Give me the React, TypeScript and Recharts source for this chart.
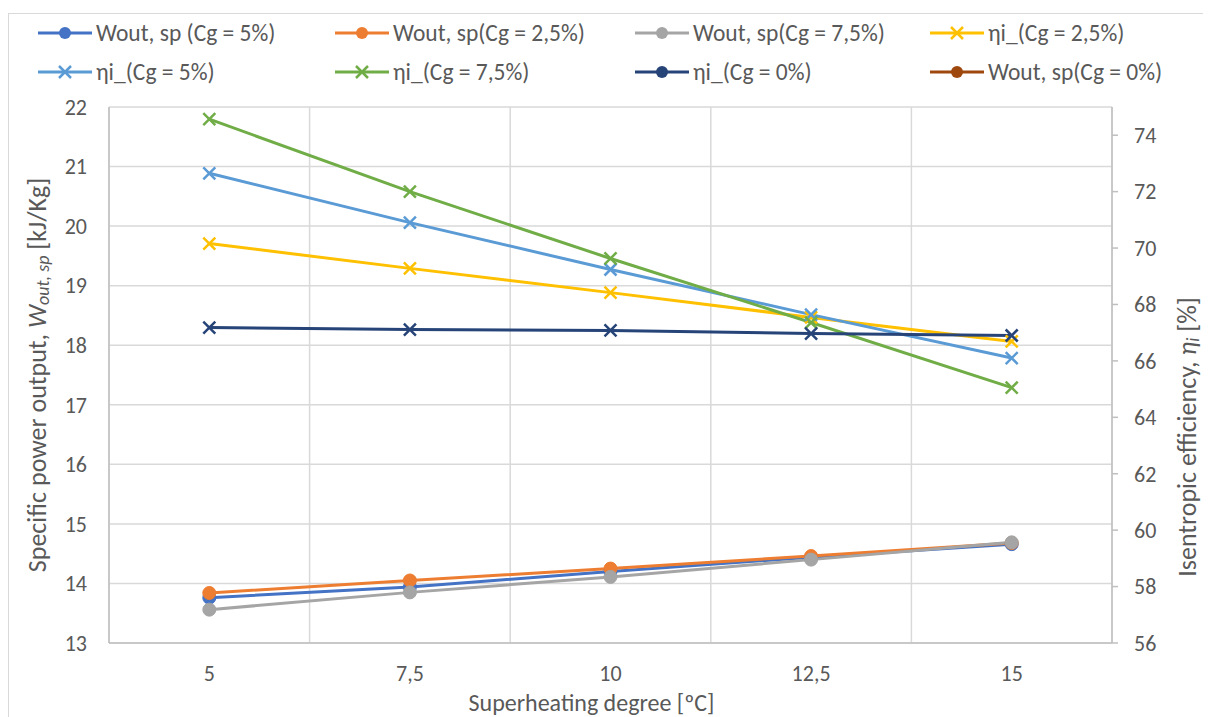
import React from 'react';
import {
  LineChart,
  Line,
  XAxis,
  YAxis,
  CartesianGrid,
} from 'recharts';

// Superheating degree categories (ºC)
const categories = ['5', '7,5', '10', '12,5', '15'];

// Specific power output, Wout,sp [kJ/Kg] (left axis)
const woutCg5 = [13.76, 13.94, 14.2, 14.44, 14.66];
const woutCg25 = [13.84, 14.05, 14.25, 14.46, 14.68];
const woutCg75 = [13.56, 13.85, 14.11, 14.4, 14.69];
const woutCg0: (number | null)[] = [null, null, null, null, null];

// Isentropic efficiency, ηi [%] (right axis)
const etaCg25 = [70.16, 69.28, 68.42, 67.54, 66.69];
const etaCg5 = [72.65, 70.9, 69.24, 67.64, 66.1];
const etaCg75 = [74.57, 72.0, 69.63, 67.36, 65.05];
const etaCg0 = [67.18, 67.11, 67.08, 66.97, 66.9];

const leftTicks = [13, 14, 15, 16, 17, 18, 19, 20, 21, 22];
const rightTicks = [56, 58, 60, 62, 64, 66, 68, 70, 72, 74];
const gridTicks = [1, 2, 3, 4];

const data = categories.map((c, i) => ({
  cat: c,
  idx: i + 0.5,
  woutCg5: woutCg5[i],
  woutCg25: woutCg25[i],
  woutCg75: woutCg75[i],
  woutCg0: woutCg0[i],
  etaCg25: etaCg25[i],
  etaCg5: etaCg5[i],
  etaCg75: etaCg75[i],
  etaCg0: etaCg0[i],
}));

const FONT = 'Carlito, Lato, "Open Sans", "Liberation Sans", sans-serif';
const TEXT = '#595959';

type SeriesDef = {
  key: string;
  name: string;
  color: string;
  marker: 'circle' | 'x';
  legendMarker: 'circle' | 'x';
  axis: 'left' | 'right';
};

const series: SeriesDef[] = [
  { key: 'woutCg5', name: 'Wout, sp (Cg = 5%)', color: '#4472C4', marker: 'circle', legendMarker: 'circle', axis: 'left' },
  { key: 'woutCg25', name: 'Wout, sp(Cg = 2,5%)', color: '#ED7D31', marker: 'circle', legendMarker: 'circle', axis: 'left' },
  { key: 'woutCg75', name: 'Wout, sp(Cg = 7,5%)', color: '#A5A5A5', marker: 'circle', legendMarker: 'circle', axis: 'left' },
  { key: 'etaCg25', name: 'ηi_(Cg = 2,5%)', color: '#FFC000', marker: 'x', legendMarker: 'x', axis: 'right' },
  { key: 'etaCg5', name: 'ηi_(Cg = 5%)', color: '#5B9BD5', marker: 'x', legendMarker: 'x', axis: 'right' },
  { key: 'etaCg75', name: 'ηi_(Cg = 7,5%)', color: '#70AD47', marker: 'x', legendMarker: 'x', axis: 'right' },
  { key: 'etaCg0', name: 'ηi_(Cg = 0%)', color: '#264478', marker: 'x', legendMarker: 'circle', axis: 'right' },
  { key: 'woutCg0', name: 'Wout, sp(Cg = 0%)', color: '#9E480E', marker: 'circle', legendMarker: 'circle', axis: 'left' },
];

const makeDot = (color: string, marker: 'circle' | 'x') => (props: any) => {
  const { cx, cy, index } = props;
  if (cx == null || cy == null || props.value == null) return <g key={`d-${index}`} />;
  if (marker === 'circle') {
    return <circle key={`d-${index}`} cx={cx} cy={cy} r={6.5} fill={color} stroke={color} strokeWidth={1} />;
  }
  const s = 6;
  return (
    <path
      key={`d-${index}`}
      d={`M${cx - s},${cy - s}L${cx + s},${cy + s}M${cx - s},${cy + s}L${cx + s},${cy - s}`}
      stroke={color}
      strokeWidth={2.5}
      fill="none"
    />
  );
};

const LegendIcon = ({ color, marker }: { color: string; marker: 'circle' | 'x' }) => (
  <svg width={56} height={14} style={{ display: 'block' }}>
    <line x1={1} y1={7} x2={55} y2={7} stroke={color} strokeWidth={3} />
    {marker === 'circle' ? (
      <circle cx={28} cy={7} r={6} fill={color} />
    ) : (
      <path d="M22,1L34,13M22,13L34,1" stroke={color} strokeWidth={2.5} />
    )}
  </svg>
);

const legendLeft = [28, 325, 625, 920];

const ChartLegend = () => (
  <div style={{ position: 'absolute', left: 0, top: 6, width: 1200, height: 80, fontFamily: FONT, fontSize: 23.5, color: TEXT }}>
    {series.map((s, i) => {
      const col = i % 4;
      const row = Math.floor(i / 4);
      return (
        <div
          key={s.key}
          style={{
            position: 'absolute',
            left: legendLeft[col],
            top: row * 39,
            height: 26,
            display: 'flex',
            alignItems: 'center',
            whiteSpace: 'nowrap',
          }}
        >
          <LegendIcon color={s.color} marker={s.legendMarker} />
          <span style={{ marginLeft: 3 }}>{s.name}</span>
        </div>
      );
    })}
  </div>
);

const LeftAxisLabel = (props: any) => {
  const vb = props.viewBox || {};
  const cx = 28;
  const cy = vb.y + vb.height / 2;
  return (
    <text
      x={cx}
      y={cy}
      transform={`rotate(-90, ${cx}, ${cy})`}
      textAnchor="middle"
      dominantBaseline="central"
      fill={TEXT}
      fontSize={26}
      fontFamily={FONT}
    >
      <tspan>Specific power output, </tspan>
      <tspan fontStyle="italic">W</tspan>
      <tspan fontStyle="italic" fontSize={18} dy={6}>out, sp</tspan>
      <tspan dy={-6}> [kJ/Kg]</tspan>
    </text>
  );
};

const RightAxisLabel = (props: any) => {
  const vb = props.viewBox || {};
  const cx = 1178;
  const cy = vb.y + vb.height / 2 + 62;
  return (
    <text
      x={cx}
      y={cy}
      transform={`rotate(-90, ${cx}, ${cy})`}
      textAnchor="middle"
      dominantBaseline="central"
      fill={TEXT}
      fontSize={26}
      fontFamily={FONT}
    >
      <tspan>Isentropic efficiency, </tspan>
      <tspan fontStyle="italic">η</tspan>
      <tspan fontStyle="italic" fontSize={18} dy={6}>i</tspan>
      <tspan dy={-6}> [%]</tspan>
    </text>
  );
};

const XAxisLabel = (props: any) => {
  const vb = props.viewBox || {};
  return (
    <text
      x={vb.x + vb.width / 2 - 19}
      y={vb.y + 59}
      textAnchor="middle"
      dominantBaseline="central"
      fill={TEXT}
      fontSize={24}
      fontFamily={FONT}
    >
      Superheating degree [ºC]
    </text>
  );
};

const tickStyle = { fill: TEXT, fontSize: 22, fontFamily: FONT };

export default function App() {
  return (
    <div
      style={{
        position: 'relative',
        marginTop: 5,
        width: 1210,
        height: 704,
        borderTop: '1.5px solid #d9d9d9',
        borderLeft: '1.5px solid #d9d9d9',
        boxSizing: 'border-box',
        background: '#fff',
      }}
    >
      <LineChart
        width={1200}
        height={703}
        data={data}
        margin={{ top: 93, right: 37, bottom: 29, left: 40 }}
        style={{ fontFamily: FONT }}
      >
        <XAxis xAxisId="grid" type="number" dataKey="idx" domain={[0, 5]} ticks={gridTicks} hide />
        <CartesianGrid
          xAxisId="grid"
          yAxisId="left"
          stroke="#d9d9d9"
          strokeWidth={1.5}
          horizontal
          vertical
        />
        <XAxis
          dataKey="cat"
          type="category"
          scale="band"
          height={45}
          tickLine={false}
          axisLine={{ stroke: '#bfbfbf', strokeWidth: 1.5 }}
          tick={tickStyle}
          tickMargin={16}
          label={<XAxisLabel />}
        />
        <YAxis
          yAxisId="left"
          orientation="left"
          domain={[13, 22]}
          ticks={leftTicks}
          interval={0}
          width={60}
          tickLine={false}
          axisLine={{ stroke: '#bfbfbf', strokeWidth: 1.5 }}
          tick={tickStyle}
          tickMargin={16}
          label={<LeftAxisLabel />}
        />
        <YAxis
          yAxisId="right"
          orientation="right"
          domain={[56, 75]}
          ticks={rightTicks}
          interval={0}
          width={60}
          tickLine={{ stroke: '#bfbfbf', strokeWidth: 1.5 }}
          tickSize={6}
          axisLine={{ stroke: '#bfbfbf', strokeWidth: 1.5 }}
          tick={tickStyle}
          tickMargin={16}
          label={<RightAxisLabel />}
        />
        {series.map((s) => (
          <Line
            key={s.key}
            yAxisId={s.axis}
            type="linear"
            dataKey={s.key}
            name={s.name}
            stroke={s.color}
            strokeWidth={3}
            dot={makeDot(s.color, s.marker)}
            activeDot={false}
            isAnimationActive={false}
            connectNulls={false}
          />
        ))}
      </LineChart>
      <ChartLegend />
    </div>
  );
}
